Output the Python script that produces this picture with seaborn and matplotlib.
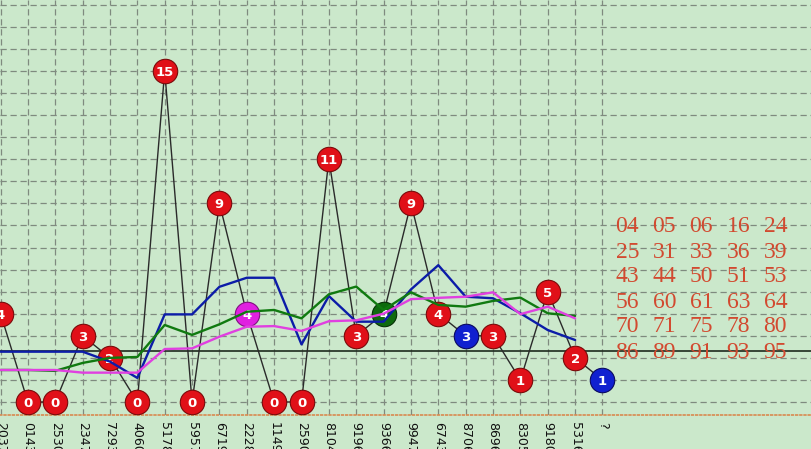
import numpy as np
import pandas as pd
import matplotlib
matplotlib.use("Agg")
import matplotlib.pyplot as plt
import seaborn as sns

# ---------------- data ----------------
labels = ["2037", "0143", "2530", "2347", "7293", "4060", "5178", "5957", "6719",
          "2228", "1149", "2590", "8104", "9196", "9366", "9947", "6743", "8706",
          "8696", "8305", "9180", "5316", "?"]
values = [4, 0, 0, 3, 2, 0, 15, 0, 9, 4, 0, 0, 11, 3, 4, 9, 4, 3, 3, 1, 5, 2, 1]
ball_kind = ["r", "r", "r", "r", "r", "r", "r", "r", "r", "m", "r", "r", "r", "r",
             "g", "r", "r", "b", "r", "r", "r", "r", "b"]
blue_avg = [2.28, 2.28, 2.28, 2.28, 1.83, 1.09, 3.97, 3.97, 5.22, 5.63, 5.63, 2.61,
            4.80, 3.64, 3.64, 5.10, 6.20, 4.77, 4.70, 4.02, 3.26, 2.81]
green_avg = [1.45, 1.45, 1.41, 1.77, 2.00, 2.04, 3.49, 3.04, 3.52, 4.09, 4.17, 3.79,
             4.88, 5.23, 4.17, 4.97, 4.40, 4.32, 4.58, 4.73, 4.02, 3.90]
pink_avg = [1.45, 1.45, 1.45, 1.33, 1.33, 1.33, 2.40, 2.43, 2.96, 3.41, 3.44, 3.22,
            3.66, 3.70, 4.00, 4.66, 4.72, 4.77, 4.97, 3.98, 4.32, 3.79]
mean_level = 2.31
number_rows = [["04", "05", "06", "16", "24"],
               ["25", "31", "33", "36", "39"],
               ["43", "44", "50", "51", "53"],
               ["56", "60", "61", "63", "64"],
               ["70", "71", "75", "78", "80"],
               ["86", "89", "91", "93", "95"]]

# ---------------- style ----------------
bg = "#cbe8cb"
sns.set_style("white", {"axes.facecolor": bg})
plt.rcParams["font.family"] = ["DejaVu Sans"]

W, H = 811, 449
fig = plt.figure(figsize=(W / 100, H / 100), dpi=100)
fig.patch.set_facecolor(bg)
ax_bottom_px = 415
ax = fig.add_axes([0, (H - ax_bottom_px) / H, 1, ax_bottom_px / H])
ax.set_facecolor(bg)

px_per_x = 27.36
px_per_y = 22.07
zero_px = 402
ax.set_xlim(-0.02, W / px_per_x - 0.02)
ax.set_ylim(-(ax_bottom_px - zero_px) / px_per_y, zero_px / px_per_y)

n = len(values)
idx = np.arange(n)
df = pd.DataFrame({"i": idx, "v": values, "kind": ball_kind})
m = len(blue_avg)
avg = pd.DataFrame({"i": np.arange(m), "blue": blue_avg, "green": green_avg, "pink": pink_avg})

# grid
ax.set_xticks(idx)
ax.set_xticklabels(labels, rotation=270, fontsize=9, color="#101010")
ax.set_yticks(range(0, 19))
ax.tick_params(axis="y", length=0, labelleft=False)
ax.tick_params(axis="x", length=3, color="#7f8f7f", pad=2)
ax.grid(True, linestyle=(0, (5, 3)), color="#7f8a7f", linewidth=0.9)
ax.set_axisbelow(True)
for s in ["left", "right", "top"]:
    ax.spines[s].set_visible(False)
ax.spines["bottom"].set_linestyle((0, (1, 1.5)))
ax.spines["bottom"].set_color("#d98a50")
ax.spines["bottom"].set_linewidth(1.2)

# mean line
ax.axhline(mean_level, color="#1e2a1e", lw=1.2, zorder=1.5)

# zigzag line
sns.lineplot(data=df, x="i", y="v", color="#2a2a2a", lw=1.0, ax=ax, zorder=2,
             legend=False)

# balls
pal = {"r": "#e01018", "m": "#e020e0", "g": "#0e6a0e", "b": "#1020d0"}
edge = {"r": "#7a0a0a", "m": "#801080", "g": "#063006", "b": "#0a0a60"}
for k in pal:
    sub = df[df["kind"] == k]
    sns.scatterplot(data=sub, x="i", y="v", color=pal[k], s=310,
                    edgecolor=edge[k], linewidth=0.8, ax=ax, zorder=3, legend=False)
for _, r in df.iterrows():
    ax.text(r["i"], r["v"], str(r["v"]), color="white", fontsize=9.5,
            fontweight="bold", ha="center", va="center_baseline", zorder=4)

# moving averages (on top of balls)
sns.lineplot(data=avg, x="i", y="blue", color="#0c1ca8", lw=1.7, ax=ax, zorder=5)
sns.lineplot(data=avg, x="i", y="green", color="#107a10", lw=1.7, ax=ax, zorder=5)
sns.lineplot(data=avg, x="i", y="pink", color="#e040e0", lw=1.7, ax=ax, zorder=6)

ax.set_xlabel("")
ax.set_ylabel("")

# number block
col_px = [615, 652, 689, 726, 763]
row_px = [227, 252, 277, 302, 327, 352]
for r, row in enumerate(number_rows):
    for c, t in enumerate(row):
        ax.text(col_px[c] / px_per_x, (zero_px - row_px[r]) / px_per_y, t,
                fontsize=17, color="#d24a30", family=["Liberation Serif"],
                ha="left", va="center", zorder=7)

fig.savefig("out.png", dpi=100, facecolor=bg)
